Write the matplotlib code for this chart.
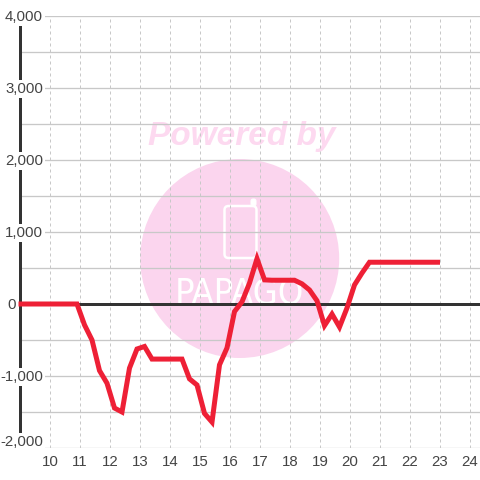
import matplotlib
matplotlib.use('Agg')
import matplotlib.pyplot as plt
from matplotlib.patches import Circle, FancyBboxPatch

hours = [8.95, 10.9, 11.15, 11.4, 11.65, 11.9, 12.15, 12.4, 12.65, 12.9, 13.15, 13.4,
         13.65, 13.9, 14.15, 14.4, 14.65, 14.9, 15.15, 15.4, 15.65, 15.9, 16.15,
         16.4, 16.65, 16.9, 17.15, 17.4, 17.65, 17.9, 18.15, 18.4, 18.65, 18.9,
         19.15, 19.4, 19.65, 19.9, 20.15, 20.4, 20.65, 20.9, 21.15, 21.4, 21.65,
         21.9, 22.15, 22.4, 22.65, 23.0]
values = [0, 0, -290, -500, -925, -1100, -1445, -1500, -890, -625, -590, -765,
          -765, -765, -765, -765, -1040, -1125, -1520, -1640, -845, -610, -105,
          30, 290, 630, 335, 330, 330, 330, 330, 280, 195, 45,
          -300, -140, -320, -55, 265, 430, 580, 580, 580, 580, 580,
          580, 580, 580, 580, 580]

x_ticks = [10, 11, 12, 13, 14, 15, 16, 17, 18, 19, 20, 21, 22, 23, 24]
y_major = [4000, 3000, 2000, 1000, 0, -1000, -2000]
y_labels = ['4,000', '3,000', '2,000', '1,000', '0', '-1,000', '-2,000']
y_minor = [3500, 2500, 1500, 500, -500, -1500]

GRID = '#c8c8c8'
DARK = '#333333'
RED = '#ee2036'
PINK = '#fbd5ee'
PX = 0.72  # one pixel in points at dpi 100

plt.rcParams['font.family'] = ['Liberation Sans', 'DejaVu Sans']

fig = plt.figure(figsize=(4.8, 4.8), dpi=100)
ax = fig.add_axes([20 / 480, 32 / 480, 460 / 480, 432 / 480])
ax.set_xlim(9, 9 + 460 / 30)
ax.set_ylim(-2000, 4000)
for side in ax.spines:
    ax.spines[side].set_visible(False)


def px(x, y):
    # reference pixels (origin top left) to display coords
    return x, 480 - y


# watermark, drawn in pixels under everything else
cx, cy = px(239.7, 258.5)
ax.add_patch(Circle((cx, cy), 99.5, transform=None, facecolor=PINK, edgecolor='none', zorder=0.1))
x0, y0 = px(224.5, 258)
ax.add_patch(FancyBboxPatch((x0 + 3, y0 + 3), 26, 46, boxstyle='round,pad=3,rounding_size=4',
                            transform=None, facecolor='none', edgecolor='white',
                            linewidth=2.5 * PX, zorder=0.2))
x1, y1 = px(251, 206)
ax.add_patch(FancyBboxPatch((x1 + 1, y1 + 1), 3, 5, boxstyle='round,pad=1,rounding_size=2',
                            transform=None, facecolor='white', edgecolor='white',
                            linewidth=1 * PX, zorder=0.2))
ax.text(239, 480 - 304, 'PAPAGO', transform=None, family='DejaVu Sans', stretch='condensed',
        fontsize=26, color='white', ha='center', va='baseline', zorder=0.2)
ax.text(242, 480 - 137, 'Powered by', transform=None, family='Liberation Sans',
        weight='bold', style='italic', fontsize=24, color='#fdd9f0',
        ha='center', va='center', zorder=0.2)

ax.set_axisbelow(True)
ax.patch.set_visible(False)

ax.set_xticks(x_ticks)
ax.set_yticks(y_major)
ax.set_yticks(y_minor, minor=True)
ax.set_yticklabels([])
ax.tick_params(axis='both', which='both', length=0)
ax.tick_params(axis='x', labelsize=10.8, labelcolor='#444444', pad=5)
ax.grid(True, axis='y', which='both', color=GRID, linewidth=1.3 * PX)
ax.grid(True, axis='x', which='major', color=GRID, linewidth=1 * PX, linestyle=(0, (3, 3)))

ax.axvline(9, color=DARK, linewidth=3 * PX, zorder=1.5, clip_on=False)
ax.axhline(0, color=DARK, linewidth=3 * PX, zorder=1.6)
ax.plot(hours, values, color=RED, linewidth=5 * PX, solid_joinstyle='miter',
        solid_capstyle='butt', zorder=3, clip_on=False)

# y labels sit over the axis line with a white box behind them
for value, label in zip(y_major, y_labels):
    right = 16 if label == '0' else 43
    va = 'bottom' if value == -2000 else 'center'
    ax.annotate(label, xy=(9, value), xytext=(right - 20, -1), textcoords='offset pixels',
                ha='right', va=va, fontsize=10.8, color='#444444', zorder=2,
                annotation_clip=False,
                bbox=dict(facecolor='white', edgecolor='none', pad=1.2))

fig.savefig('out.png', dpi=100)
